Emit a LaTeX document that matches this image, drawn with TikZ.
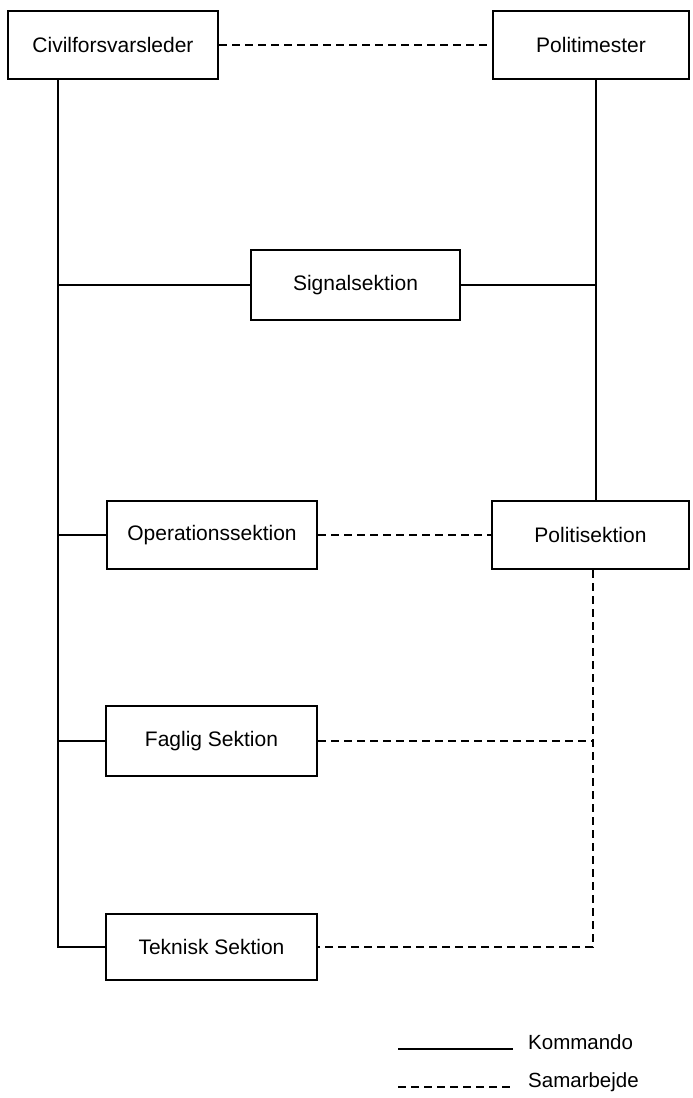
\documentclass[tikz,border=0pt]{standalone}
\usepackage{fontspec}
\setmainfont{Liberation Sans}
\begin{document}
\begin{tikzpicture}[x=1pt,y=-1pt,
  box/.style={draw,line width=2pt,inner sep=0pt,font=\fontsize{21}{25}\selectfont},
  cmd/.style={line width=1.5pt},
  coop/.style={line width=1.5pt,dash pattern=on 8pt off 5pt},
  legtext/.style={anchor=base west,inner sep=0pt,font=\fontsize{20.5}{24}\selectfont}]
\useasboundingbox (0,0) rectangle (693,1098);
% boxes
\node[box,minimum width=210pt,minimum height=68pt] (civ) at (113,45) {Civilforsvarsleder};
\node[box,minimum width=196pt,minimum height=68pt] (pm) at (591,45) {Politimester};
\node[box,minimum width=209pt,minimum height=70pt] (sig) at (355.5,285) {Signalsektion};
\node[box,minimum width=210pt,minimum height=68pt] (op) at (212,535) {Operationssektion};
\node[box,minimum width=197pt,minimum height=68pt] (pol) at (590.5,535) {Politisektion};
\node[box,minimum width=211pt,minimum height=70pt] (fag) at (211.5,741) {Faglig Sektion};
\node[box,minimum width=211pt,minimum height=66pt] (tek) at (211.5,947) {Teknisk Sektion};
% guide coordinates
\coordinate (lx) at (58,0);
\coordinate (rx) at (596,0);
\coordinate (dx) at (593,0);
% command lines
\draw[cmd] (civ.south -| lx) -- (tek.west -| lx) -- (tek.west);
\draw[cmd] (sig.west -| lx) -- (sig.west);
\draw[cmd] (op.west -| lx) -- (op.west);
\draw[cmd] (fag.west -| lx) -- (fag.west);
\draw[cmd] (pm.south -| rx) -- (pol.north -| rx);
\draw[cmd] (sig.east) -- (sig.east -| rx);
% cooperation lines
\draw[coop] (civ.east) -- (pm.west);
\draw[coop] (op.east) -- (pol.west);
\draw[coop] (pol.south -| dx) -- (tek.east -| dx) -- (tek.east);
\draw[coop] (fag.east) -- (fag.east -| dx);
% legend
\coordinate (k1) at (398,1049);
\coordinate (k2) at (513,1049);
\draw[cmd] (k1) -- (k2);
\node[legtext] (kt) at (528,1049) {Kommando};
\coordinate (s1) at (398,1087);
\coordinate (s2) at (513,1087);
\draw[coop] (s1) -- (s2);
\node[legtext] (st) at (528,1087) {Samarbejde};
\end{tikzpicture}
\end{document}
